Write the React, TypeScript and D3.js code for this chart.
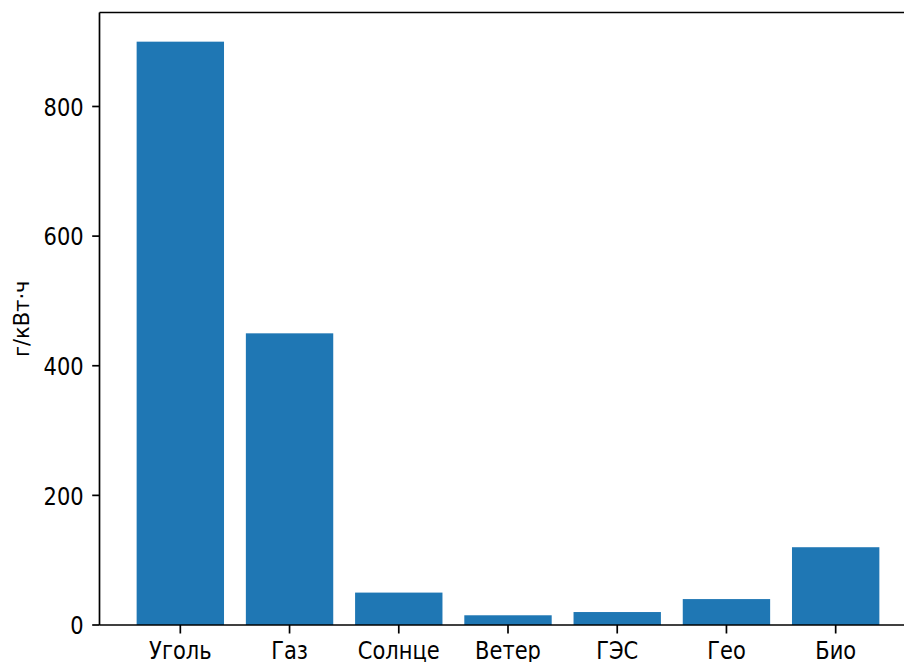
import React from "react";
import * as d3 from "d3";

const categories = ["Уголь", "Газ", "Солнце", "Ветер", "ГЭС", "Гео", "Био"];
const values = [900, 450, 50, 15, 20, 40, 120];
const yTicks = [0, 200, 400, 600, 800];
const yLabel = "г/кВт·ч";

export default function App() {
  const W = 904, H = 662;
  const left = 99.5, right = 916.5, top = 12.5, bottom = 625;
  const n = categories.length;
  const x = d3.scaleLinear().domain([-0.74, n - 1 + 0.74]).range([left, right]);
  const y = d3.scaleLinear().domain([0, 945]).range([bottom, top]);
  const bw = x(0.4) - x(-0.4);
  const font = "DejaVu Sans, sans-serif";
  const fs = 21;
  const sy = 1.2;
  const tickLen = 7.3;
  return (
    <svg width={W} height={H} style={{ position: "absolute", left: 0, top: 0, background: "#fff" }} fontFamily={font}>
      <rect x={0} y={0} width={W} height={H} fill="#fff" />
      {values.map((v, i) => (
        <rect key={i} x={x(i) - bw / 2} y={y(v)} width={bw} height={y(0) - y(v)} fill="#1f77b4" />
      ))}
      {/* spines */}
      <line x1={left} x2={left} y1={top} y2={bottom} stroke="#000" strokeWidth={1.7} />
      <line x1={left} x2={right} y1={bottom} y2={bottom} stroke="#000" strokeWidth={1.7} />
      <line x1={left} x2={right} y1={top} y2={top} stroke="#000" strokeWidth={1.7} />
      <line x1={right} x2={right} y1={top} y2={bottom} stroke="#000" strokeWidth={1.7} />
      {yTicks.map((t) => (
        <g key={t}>
          <line x1={left - tickLen} x2={left} y1={y(t)} y2={y(t)} stroke="#000" strokeWidth={1.7} />
          <text
            transform={`translate(${left - tickLen - 8.5}, ${y(t)}) scale(1, ${sy})`}
            textAnchor="end"
            dominantBaseline="central"
            fontSize={fs}
            fill="#000"
          >
            {t}
          </text>
        </g>
      ))}
      {categories.map((c, i) => (
        <g key={c}>
          <line x1={x(i)} x2={x(i)} y1={bottom} y2={bottom + 8.5} stroke="#000" strokeWidth={1.7} />
          <text
            transform={`translate(${x(i)}, ${659}) scale(1, ${sy})`}
            textAnchor="middle"
            fontSize={fs}
            fill="#000"
          >
            {c}
          </text>
        </g>
      ))}
      <text
        transform={`translate(${22}, ${(top + bottom) / 2}) rotate(-90)`}
        textAnchor="middle"
        dominantBaseline="central"
        fontSize={fs}
        fill="#000"
      >
        {yLabel}
      </text>
    </svg>
  );
}
